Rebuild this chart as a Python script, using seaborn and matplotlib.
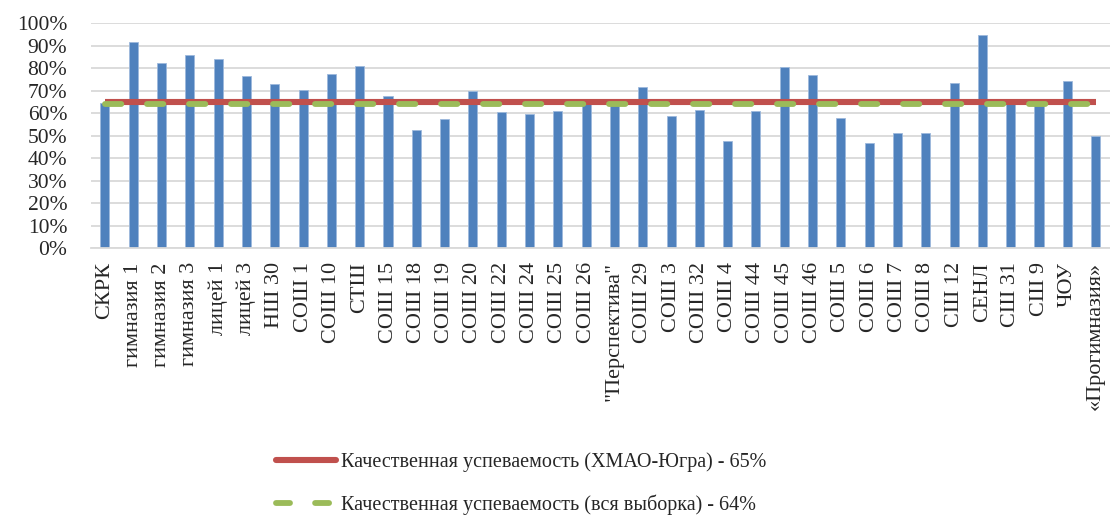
import numpy as np
import matplotlib
matplotlib.use('Agg')
import matplotlib.pyplot as plt
import seaborn as sns
from matplotlib.lines import Line2D
from matplotlib.ticker import PercentFormatter, MultipleLocator

# School names (x axis)
schools = [
    'СКРК', 'гимназия 1', 'гимназия 2', 'гимназия 3', 'лицей 1', 'лицей 3',
    'НШ 30', 'СОШ 1', 'СОШ 10', 'СТШ', 'СОШ 15', 'СОШ 18', 'СОШ 19',
    'СОШ 20', 'СОШ 22', 'СОШ 24', 'СОШ 25', 'СОШ 26', '"Перспектива"',
    'СОШ 29', 'СОШ 3', 'СОШ 32', 'СОШ 4', 'СОШ 44', 'СОШ 45', 'СОШ 46',
    'СОШ 5', 'СОШ 6', 'СОШ 7', 'СОШ 8', 'СШ 12', 'СЕНЛ', 'СШ 31', 'СШ 9',
    'ЧОУ', '«Прогимназия»',
]

# Quality performance per school, %
quality = [
    64.5, 91.4, 82.4, 85.8, 84.1, 76.4,
    72.9, 70.4, 77.5, 80.9, 67.7, 52.3, 57.5,
    69.9, 60.7, 59.8, 60.9, 64.0, 64.0,
    71.6, 58.7, 61.2, 47.6, 60.9, 80.6, 77.0,
    57.9, 46.9, 51.4, 51.0, 73.2, 94.5, 64.0, 64.0,
    74.3, 50.0,
]

region_avg = 65   # ХМАО-Югра
sample_avg = 64   # вся выборка

label_region = 'Качественная успеваемость (ХМАО-Югра) - 65%'
label_sample = 'Качественная успеваемость (вся выборка) - 64%'

BLUE = '#4F81BD'
RED = '#C0504D'
GREEN = '#9BBB59'

sns.set_style('white')
plt.rcParams['font.family'] = ['Liberation Serif', 'DejaVu Serif']

fig = plt.figure(figsize=(11.1, 5.17), dpi=100)
ax = fig.add_axes([0.0818, 0.5197, 0.918, 0.4358])

sns.barplot(x=schools, y=quality, color=BLUE, width=0.32, saturation=1,
            edgecolor='#9DB9DC', linewidth=0.6, ax=ax, zorder=2)

pos = np.arange(len(schools))
ax.plot(pos, [region_avg] * len(schools), color=RED, lw=4.4,
        solid_capstyle='butt', zorder=3)
ax.plot(pos, [sample_avg] * len(schools), color=GREEN, lw=4.2,
        dashes=(2.8, 4.4), dash_capstyle='round', zorder=4)

ax.set_ylim(0, 100)
ax.set_xlim(-0.5, len(schools) - 0.5)
ax.yaxis.set_major_locator(MultipleLocator(10))
ax.yaxis.set_major_formatter(PercentFormatter(decimals=0))
ax.grid(axis='y', color='#D9D9D9', lw=1.3, zorder=0)
ax.set_axisbelow(True)
for s in ['top', 'right', 'left']:
    ax.spines[s].set_visible(False)
ax.spines['bottom'].set_color('#D9D9D9')
ax.spines['bottom'].set_linewidth(1.3)

ax.tick_params(axis='y', length=0, pad=17, labelsize=15.5)
ax.tick_params(axis='x', length=0, pad=10, labelsize=16)
ax.set_xticks(pos)
ax.set_xticklabels(schools, rotation=90)

handles = [
    Line2D([], [], color=RED, lw=4.4, solid_capstyle='round'),
    Line2D([], [], color=GREEN, lw=4.2, dashes=(2.4, 4.3), dash_capstyle='round'),
]
fig.legend(handles, [label_region, label_sample], loc='center',
           bbox_to_anchor=(0.4695, 0.065), frameon=False, fontsize=14.5,
           handlelength=3.0, handletextpad=0.25, labelspacing=1.1)

fig.savefig('out.png', dpi=100)
